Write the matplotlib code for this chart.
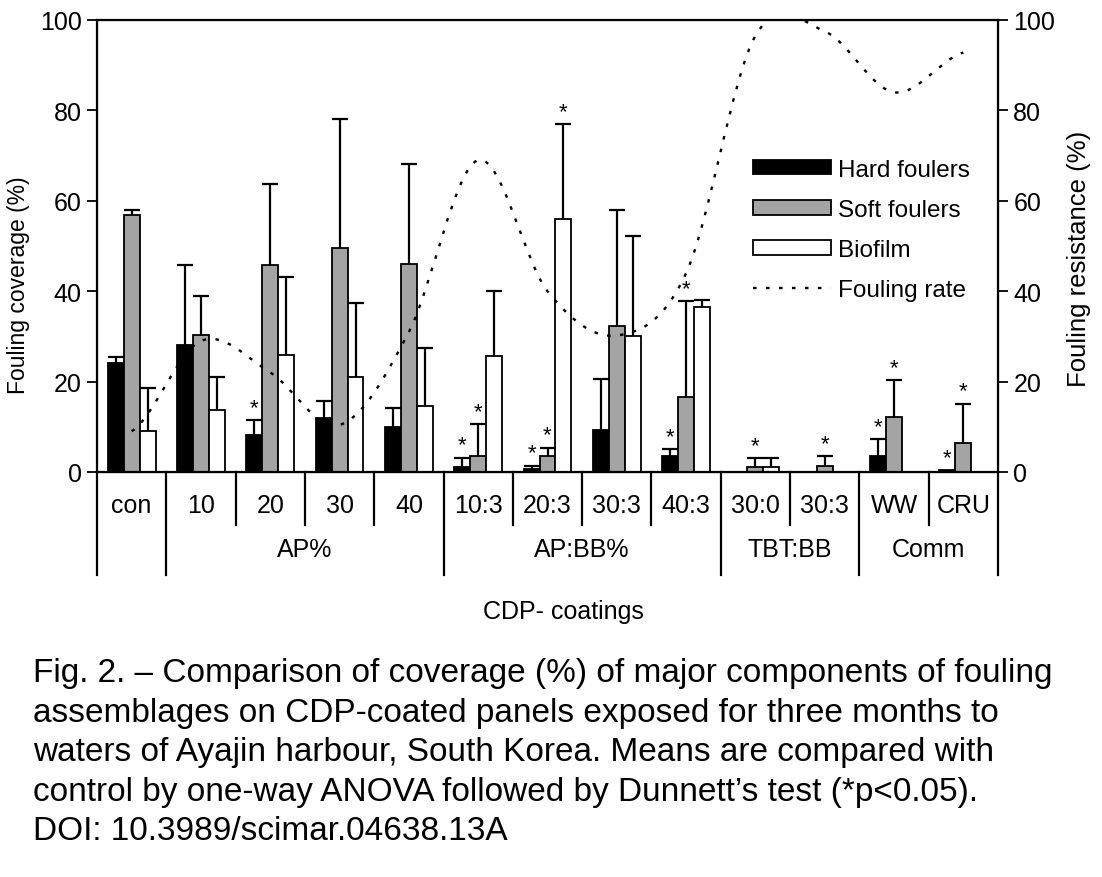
import numpy as np
import matplotlib
matplotlib.use('Agg')
import matplotlib.pyplot as plt
from matplotlib.path import Path
from matplotlib.patches import PathPatch, Patch
from matplotlib.lines import Line2D
import matplotlib.transforms as mtransforms

plt.rcParams['font.family'] = ['Liberation Sans', 'DejaVu Sans']

# coatings (x categories) and their groups
coatings = ['con', '10', '20', '30', '40', '10:3', '20:3', '30:3', '40:3', '30:0', '30:3', 'WW', 'CRU']
groups = ['', 'AP%', 'AP:BB%', 'TBT:BB', 'Comm']
group_sizes = [1, 4, 4, 2, 2]

# coverage (%) means and upper SD
hard = [24.1, 28.0, 8.2, 12.0, 9.9, 1.1, 0.7, 9.3, 3.6, 0.0, 0.0, 3.5, 0.4]
hard_err = [1.3, 17.7, 3.3, 3.8, 4.2, 2.1, 0.7, 11.3, 1.4, 0.0, 0.0, 3.8, 0.0]
soft = [56.9, 30.2, 45.7, 49.6, 46.0, 3.6, 3.5, 32.4, 16.6, 1.0, 1.4, 12.1, 6.4]
soft_err = [1.1, 8.7, 18.0, 28.4, 22.1, 7.0, 1.9, 25.6, 21.2, 2.1, 2.1, 8.3, 8.7]
biofilm = [9.1, 13.7, 25.8, 21.0, 14.6, 25.7, 55.9, 30.0, 36.4, 1.0, 0.0, 0.0, 0.0]
biofilm_err = [9.4, 7.3, 17.3, 16.5, 12.8, 14.3, 21.1, 22.3, 1.7, 2.1, 0.0, 0.0, 0.0]

# significant vs control (Dunnett, p<0.05)
sig_hard = [2, 5, 6, 8, 11, 12]
sig_soft = [5, 6, 8, 9, 10, 11, 12]
sig_bio = [6]

# fouling resistance (%) per coating
fouling_rate = [9.0, 29.0, 22.0, 10.4, 31.0, 69.0, 40.0, 30.2, 44.0, 96.5, 97.5, 84.0, 92.8]

caption = ["Fig. 2. \u2013 Comparison of coverage (%) of major components of fouling",
           "assemblages on CDP-coated panels exposed for three months to",
           "waters of Ayajin harbour, South Korea. Means are compared with",
           "control by one-way ANOVA followed by Dunnett\u2019s test (*p<0.05).",
           "DOI: 10.3989/scimar.04638.13A"]

fig = plt.figure(figsize=(11.02, 8.78), dpi=100)
ax = fig.add_axes([97/1102, 1-473/878, (998-97)/1102, (473-21)/878])

x = np.arange(len(coatings))
w = 0.23
series = [(hard, hard_err, sig_hard, 'black', -w),
          (soft, soft_err, sig_soft, '#a4a4a4', 0.0),
          (biofilm, biofilm_err, sig_bio, 'white', w)]
for vals, err, sig, col, off in series:
    vals = np.array(vals)
    err = np.array(err)
    ax.bar(x + off, vals, w, color=col, edgecolor='black', linewidth=1.3, zorder=2)
    m = err > 0
    eb = ax.errorbar(x[m] + off, vals[m], yerr=[np.zeros(m.sum()), err[m]], fmt='none',
                     ecolor='black', elinewidth=1.6, capsize=5.8, capthick=1.6, zorder=3)
    eb[1][0].set_visible(False)  # no lower cap
    for i in sig:
        ax.annotate('*', (x[i] + off, vals[i] + err[i]), xytext=(0, 1.5),
                    textcoords='offset points', ha='center', va='bottom', fontsize=16)

ax.set_xlim(-0.5, len(coatings) - 0.5)
ax.set_ylim(0, 100)
ax.set_yticks(np.arange(0, 101, 20))
ax.set_xticks([])
ax.tick_params(axis='y', direction='out', length=7, width=1.3, labelsize=18, pad=4)
for s in ax.spines.values():
    s.set_linewidth(1.6)
ax.set_ylabel('Fouling coverage (%)', fontsize=16.5)
ax.yaxis.set_label_coords(-0.074, 0.415)

# fouling rate, smoothed curve through the points
ax2 = ax.twinx()
ax2.set_ylim(0, 100)
ax2.set_yticks(np.arange(0, 101, 20))
ax2.tick_params(axis='y', direction='out', length=7, width=1.3, labelsize=18, pad=4)
ax2.set_ylabel('Fouling resistance (%)', fontsize=18.5)
ax2.yaxis.set_label_coords(1.0766, 0.473)
ax2.set_xlim(ax.get_xlim())
fr = np.array(fouling_rate)
verts = [(x[0], fr[0])]
codes = [Path.MOVETO]
for i in range(len(x) - 1):
    p0 = fr[max(i - 1, 0)]
    p3 = fr[min(i + 2, len(x) - 1)]
    c1 = fr[i] + (fr[i + 1] - p0) / 6
    c2 = fr[i + 1] - (p3 - fr[i]) / 6
    verts += [(x[i] + 1/3, c1), (x[i] + 2/3, c2), (x[i + 1], fr[i + 1])]
    codes += [Path.CURVE4] * 3
ax2.add_patch(PathPatch(Path(verts, codes), fill=False, edgecolor='black',
                        linewidth=1.7, linestyle=(0, (1.5, 4)), zorder=4))

# category table under the axis
trans = mtransforms.blended_transform_factory(ax.transData, ax.transAxes)
for i, c in enumerate(coatings):
    ax.text(i, -0.073, c, transform=trans, ha='center', va='center', fontsize=18)
bounds = np.cumsum([0] + group_sizes) - 0.5
for i in range(len(coatings) + 1):
    b = i - 0.5
    low = -0.228 if b in bounds else -0.117
    ax.plot([b, b], [0, low], transform=trans, color='black', lw=1.6, clip_on=False)
for g, a, b in zip(groups, bounds[:-1], bounds[1:]):
    ax.text((a + b) / 2, -0.170, g, transform=trans, ha='center', va='center', fontsize=18)
ax.text(0.518, -0.307, 'CDP- coatings', transform=ax.transAxes, ha='center',
        va='center', fontsize=18)

handles = [Patch(facecolor='black', edgecolor='black', linewidth=1.3),
           Patch(facecolor='#a4a4a4', edgecolor='black', linewidth=1.3),
           Patch(facecolor='white', edgecolor='black', linewidth=1.3),
           Line2D([], [], color='black', lw=1.7, linestyle=(0, (1.5, 4)))]
ax2.legend(handles, ['Hard foulers', 'Soft foulers', 'Biofilm', 'Fouling rate'],
           loc='upper left', bbox_to_anchor=(0.728, 0.693), frameon=False,
           fontsize=17.5, handlelength=3.2, handleheight=0.55, labelspacing=0.75,
           handletextpad=0.3, borderpad=0, borderaxespad=0)

for k, line in enumerate(caption):
    fig.text(33/1102, 1 - (682 + 39.6*k)/878, line, fontsize=24, ha='left', va='baseline')

fig.savefig('out.png', dpi=100)
